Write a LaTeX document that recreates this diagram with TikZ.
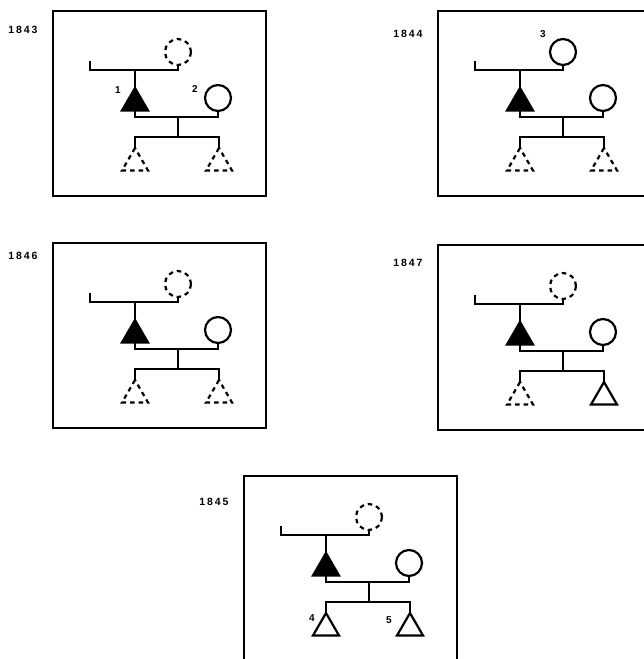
\documentclass[tikz,border=0pt]{standalone}
\usepackage{fontspec}
\setmainfont{Liberation Sans}
\newfontfamily\yearfont[LetterSpace=18.0]{Liberation Sans}
\usetikzlibrary{shapes.geometric}

\tikzset{
  panel/.style={draw,line width=2pt},
  line/.style={line width=2.4pt},
  female/.style={circle,draw,line width=2.2pt,minimum size=26pt,inner sep=0pt,outer sep=0pt},
  male/.style={regular polygon,regular polygon sides=3,draw,line width=2.2pt,
    minimum size=30pt,inner sep=0pt,outer sep=0pt,anchor=north},
  dead/.style={dash pattern=on 4.5pt off 4pt},
  year/.style={font=\yearfont\bfseries\fontsize{10.5}{10.5}\selectfont,anchor=east},
  num/.style={font=\bfseries\fontsize{10}{10}\selectfont}
}

\begin{document}
\begin{tikzpicture}[x=1pt,y=-1pt]
\useasboundingbox (0,0) rectangle (644,659);
% one panel per year
\foreach \bx/\by/\yr/\yy/\gp/\ca/\cb [count=\i] in {53/11/1843/19/dead/dead/dead,
    438/11/1844/23/solid/dead/dead, 53/243/1846/13/dead/dead/dead,
    438/245/1847/18/dead/dead/solid, 244/476/1845/26/dead/solid/solid}{
  \begin{scope}[shift={(\bx,\by)}]
    \draw[panel] (0,0) rectangle (213,185);
    \node[year] (y\i) at (-12,\yy) {\yr};
    \node[female,\gp] (g\i) at (125,41) {};
    \node[male,fill=black] (m\i) at (82,77) {};
    \node[female] (w\i) at (165,87) {};
    \node[male,\ca] (a\i) at (82,137) {};
    \node[male,\cb] (b\i) at (166,137) {};
    \coordinate (t\i) at (37,50);
    \coordinate (r\i) at (125,59);
    \coordinate (k\i) at (125,106);
    \coordinate (d\i) at (125,126);
    \draw[line] (t\i) |- (r\i) -- (g\i.south);
    \draw[line] (m\i.north) -- (m\i.north |- r\i);
    \draw[line] (m\i.south) -- (m\i.south |- k\i) -- (w\i.south |- k\i) -- (w\i.south);
    \draw[line] (k\i) -- (d\i);
    \draw[line] (a\i.north) -- (a\i.north |- d\i) -- (b\i.north |- d\i) -- (b\i.north);
  \end{scope}
}
% individuals
\node[num] (n1) at (118,90) {1};
\node[num] (n2) at (195,89) {2};
\node[num] (n3) at (543,34) {3};
\node[num] (n4) at (312,618) {4};
\node[num] (n5) at (389,620) {5};
\end{tikzpicture}
\end{document}
